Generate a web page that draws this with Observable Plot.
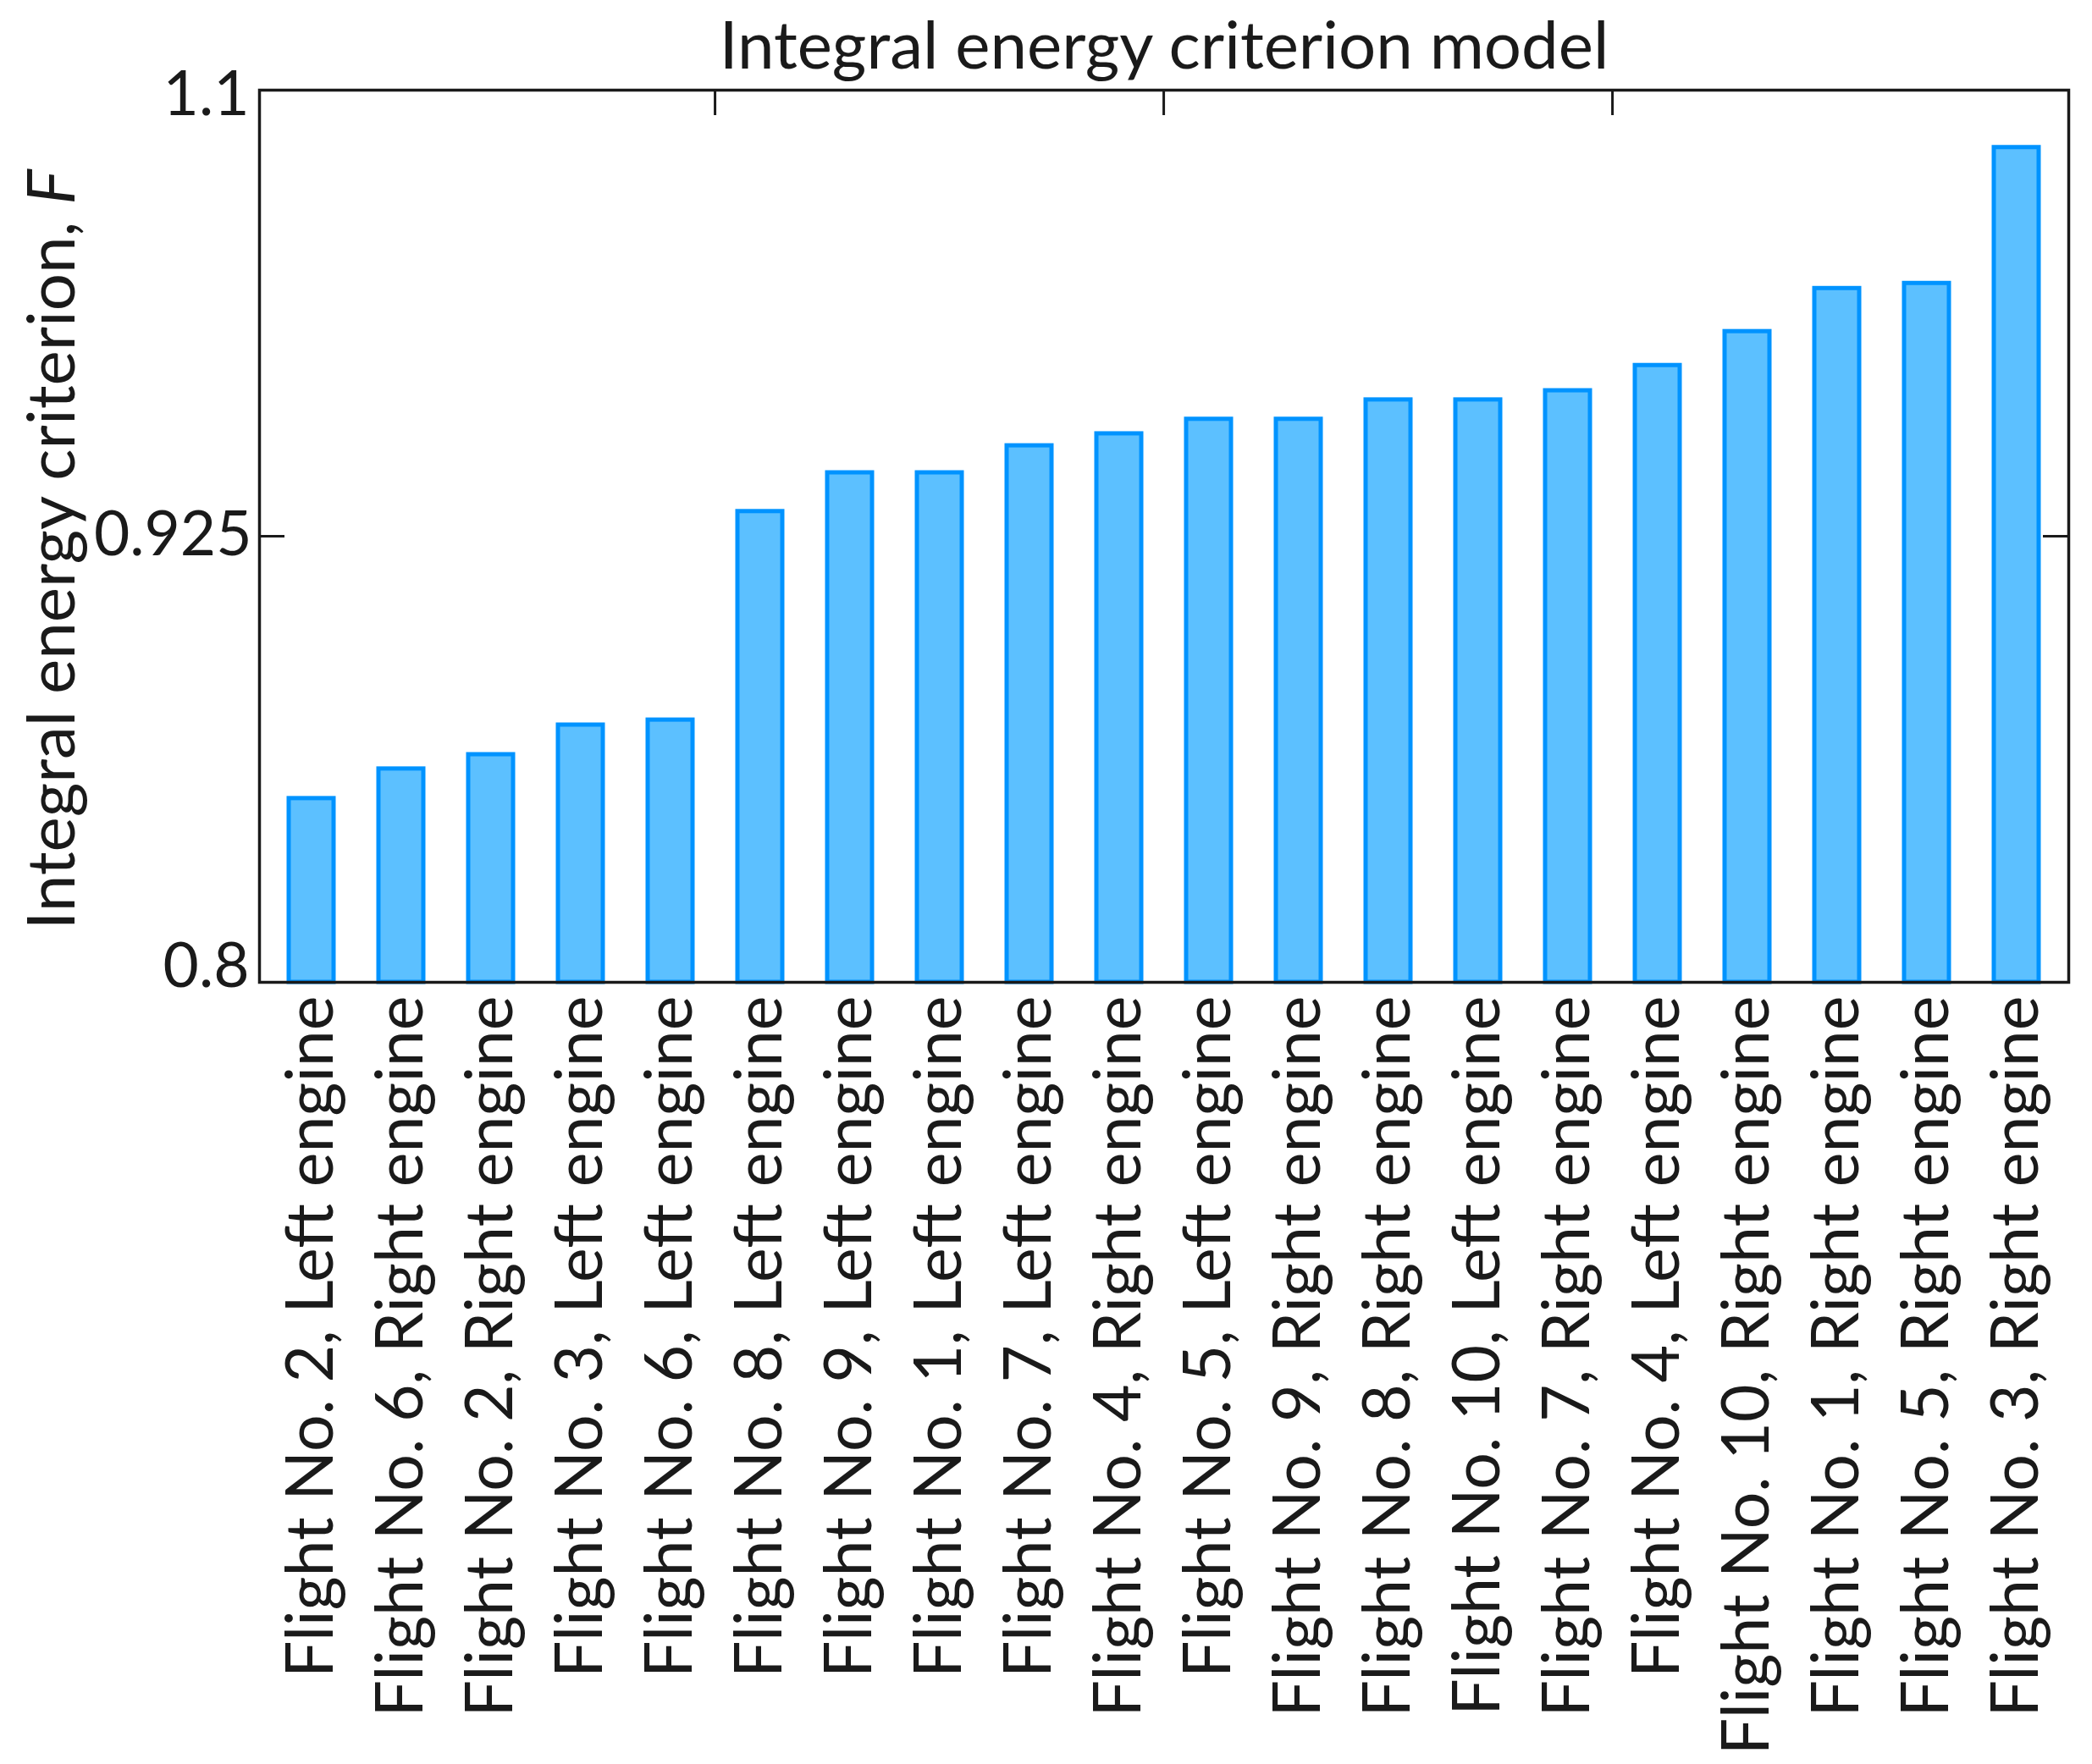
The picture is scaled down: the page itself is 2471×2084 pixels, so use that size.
<!DOCTYPE html>
<html>
<head>
<meta charset="utf-8">
<script src="https://cdn.jsdelivr.net/npm/d3@7"></script>
<script src="https://cdn.jsdelivr.net/npm/@observablehq/plot@0.6"></script>
<style>
  html, body { margin: 0; padding: 0; background: #fff; }
  #chart svg { display: block; }
</style>
</head>
<body>
<div id="chart"></div>
<script>
// ---- data ----
const categories = [
  "Flight No. 2, Left engine",
  "Flight No. 6, Right engine",
  "Flight No. 2, Right engine",
  "Flight No. 3, Left engine",
  "Flight No. 6, Left engine",
  "Flight No. 8, Left engine",
  "Flight No. 9, Left engine",
  "Flight No. 1, Left engine",
  "Flight No. 7, Left engine",
  "Flight No. 4, Right engine",
  "Flight No. 5, Left engine",
  "Flight No. 9, Right engine",
  "Flight No. 8, Right engine",
  "Flight No. 10, Left engine",
  "Flight No. 7, Right engine",
  "Flight No. 4, Left engine",
  "Flight No. 10, Right engine",
  "Flight No. 1, Right engine",
  "Flight No. 5, Right engine",
  "Flight No. 3, Right engine"
];
const values = [
  0.8515, 0.8598, 0.8638, 0.8721, 0.8735,
  0.9347, 0.9499, 0.9499, 0.9605, 0.9652,
  0.9709, 0.9709, 0.9785, 0.9785, 0.9821,
  0.9920, 1.0053, 1.0222, 1.0242, 1.0775
];
const yTicks = [0.8, 0.925, 1.1];
const yTickLabels = ["0.8", "0.925", "1.1"];
const topTickCategories = [categories[5], categories[10], categories[15]];
const titleText = "Integral energy criterion model";
const yLabelMain = "Integral energy criterion, ";
const yLabelVar = "F";

const data = categories.map((c, i) => ({category: c, value: values[i]}));

// ---- layout ----
const W = 2471, H = 2084;
const mTop = 106, mBottom = 924, mLeft = 306, mRight = 28;
const plotW = W - mLeft - mRight, plotH = H - mTop - mBottom;
const yBottom = H - mBottom, yMid = (H - mBottom + mTop) / 2;
const step = plotW / categories.length;
const tickLen = 30;
const ink = "#1a1a1a";
const fmt = d => yTickLabels[yTicks.indexOf(d)];

const chart = Plot.plot({
  width: W,
  height: H,
  marginTop: mTop,
  marginBottom: mBottom,
  marginLeft: mLeft,
  marginRight: mRight,
  style: {fontFamily: "Lato, 'Open Sans', sans-serif", background: "#fff", color: ink, overflow: "visible"},
  x: {type: "band", domain: categories, paddingInner: 0.5, paddingOuter: 0.25, label: null},
  y: {type: "linear", domain: yTicks, range: [yBottom, yMid, mTop], label: null},
  marks: [
    Plot.barY(data, {
      x: "category", y1: () => yTicks[0], y2: "value",
      fill: "#5cc0ff", stroke: "#0093ff", strokeWidth: 5
    }),
    Plot.frame({stroke: ink, strokeWidth: 3.5}),
    // inward ticks
    Plot.ruleX(topTickCategories, {x: d => d, dx: -step / 2, insetBottom: plotH - tickLen, stroke: ink, strokeWidth: 3}),
    Plot.ruleY([yTicks[1]], {y: d => d, insetRight: plotW - tickLen, stroke: ink, strokeWidth: 3}),
    Plot.ruleY([yTicks[1]], {y: d => d, insetLeft: plotW - tickLen, stroke: ink, strokeWidth: 3}),
    // y tick labels
    Plot.axisY({ticks: [yTicks[2]], tickFormat: fmt, tickSize: 0, tickPadding: 12, fontSize: 73, label: null, dy: 6}),
    Plot.axisY({ticks: [yTicks[1]], tickFormat: fmt, tickSize: 0, tickPadding: 9, fontSize: 73, label: null, dy: -1}),
    Plot.axisY({ticks: [yTicks[0]], tickFormat: fmt, tickSize: 0, tickPadding: 12, fontSize: 73, label: null, dy: -18}),
    // x tick labels
    Plot.axisX({anchor: "bottom", tickRotate: -90, tickSize: 0, tickPadding: 16, fontSize: 77, label: null}),
    // title
    Plot.text([titleText], {text: d => d, frameAnchor: "top", lineAnchor: "bottom", dy: -26, fontSize: 78, fill: ink}),
    // y label
    Plot.text([yLabelMain + yLabelVar], {text: d => d, frameAnchor: "left", textAnchor: "middle", rotate: -90, dx: -243, dy: 16, fontSize: 78, fill: ink})
  ]
});

document.getElementById("chart").appendChild(chart);

// italic variable name in the y label
chart.querySelectorAll("text").forEach(t => {
  if (t.textContent === yLabelMain + yLabelVar) {
    t.textContent = "";
    const a = document.createElementNS("http://www.w3.org/2000/svg", "tspan");
    a.textContent = yLabelMain;
    const b = document.createElementNS("http://www.w3.org/2000/svg", "tspan");
    b.textContent = yLabelVar;
    b.setAttribute("font-style", "italic");
    t.appendChild(a);
    t.appendChild(b);
  }
});
</script>
</body>
</html>
